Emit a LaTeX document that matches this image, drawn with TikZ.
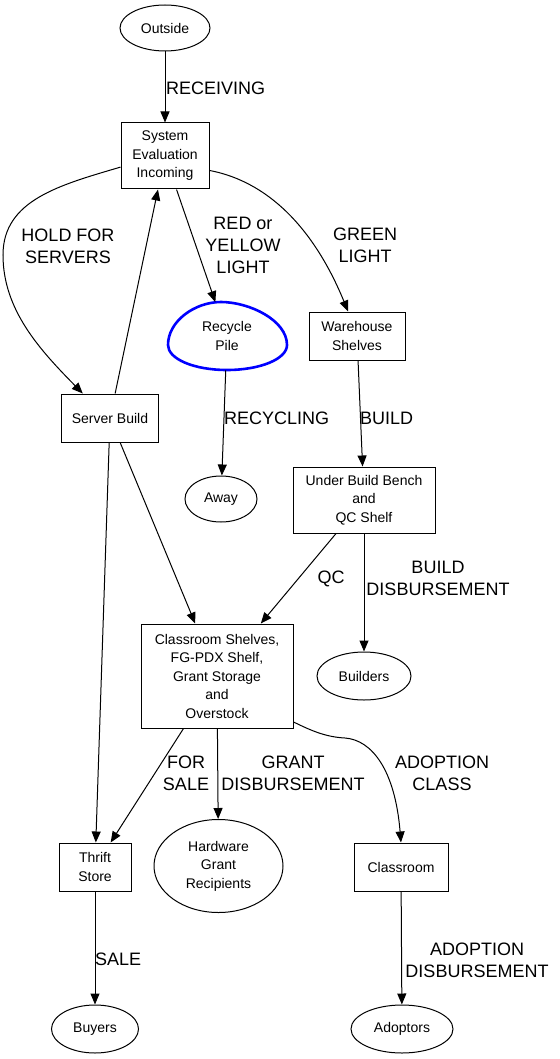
\documentclass[tikz,border=0pt]{standalone}
\usepackage{fontspec}
\setmainfont{Liberation Sans}
\usepackage{xcolor}
\usetikzlibrary{arrows.meta,shapes.geometric}
\definecolor{pileblue}{HTML}{0000FF}

\begin{document}
\begin{tikzpicture}[
  x=1pt,y=-1pt,
  box/.style={draw,line width=1pt,align=center,inner sep=0pt,
    font=\fontsize{14}{18.5}\selectfont},
  oval/.style={box,ellipse},
  lbl/.style={align=center,inner sep=0pt,font=\fontsize{18}{22}\selectfont},
  flow/.style={-{Triangle[length=11pt,width=9pt]},line width=1pt},
  egg/.style={draw=pileblue,line width=2.6pt}
]
\useasboundingbox (0,0) rectangle (559,1059);
% nodes
\node[oval,minimum width=90,minimum height=46] (outside) at (165,28) {Outside};
\node[box,minimum width=88,minimum height=66] (sei) at (165,156) {System\\Evaluation\\Incoming};
\node[oval,draw=none,minimum width=118,minimum height=68] (recycle) at (227,336) {Recycle\\Pile};
\node[box,minimum width=96,minimum height=48] (wh) at (357,336) {Warehouse\\Shelves};
\node[box,minimum width=97,minimum height=48] (sb) at (110,418) {Server Build};
\node[oval,minimum width=72,minimum height=46] (away) at (221,499) {Away};
\node[box,minimum width=142,minimum height=66] (ubb) at (364,500) {Under Build Bench\\and\\QC Shelf};
\node[box,minimum width=152,minimum height=104] (cs) at (217,676)
  {Classroom Shelves,\\FG-PDX Shelf,\\Grant Storage\\and\\Overstock};
\node[oval,minimum width=94,minimum height=48] (builders) at (364,676) {Builders};
\node[box,minimum width=72,minimum height=48] (thrift) at (95,867) {Thrift\\Store};
\node[oval,minimum width=129,minimum height=93] (hgr) at (218.5,866) {Hardware\\Grant\\Recipients};
\node[box,minimum width=94,minimum height=48] (classroom) at (401,867) {Classroom};
\node[oval,minimum width=87,minimum height=48] (buyers) at (95,1029) {Buyers};
\node[oval,minimum width=102,minimum height=48] (adoptors) at (402,1029) {Adoptors};
% recycle pile outline
\begin{scope}[shift={(recycle.center)}]
\draw[egg] (-59,9) .. controls (-59,-15) and (-32,-34) .. (-6,-34)
  .. controls (22,-34) and (60,-16) .. (60,9)
  .. controls (60,23) and (33,34) .. (0,34)
  .. controls (-33,34) and (-59,23) .. cycle;
\end{scope}
% connectors
\foreach \a/\b in {outside/sei,sb/sei,sei/recycle,recycle/away,wh/ubb,sb/cs,sb/thrift,
  ubb/cs,ubb/builders,cs/thrift,cs/hgr,thrift/buyers,classroom/adoptors}
  \draw[flow] (\a) -- (\b);
\draw[flow] (sei.194) .. controls (60,185) and (3,200) .. (3,255)
  .. controls (3,310) and (40,350) .. (sb.138);
\draw[flow] (sei.-18) .. controls (275,183) and (318,238) .. (wh.110);
\draw[flow] (cs.-31) .. controls (310,730) and (325,737) .. (345,738)
  .. controls (372,740) and (395,770) .. (classroom.north);
% labels
\node[lbl,anchor=west] (lrecv) at (166,88) {RECEIVING};
\node[lbl] (lhold) at (68,246) {HOLD FOR\\SERVERS};
\node[lbl] (lred) at (243,245) {RED or\\YELLOW\\LIGHT};
\node[lbl] (lgreen) at (365,245) {GREEN\\LIGHT};
\node[lbl,anchor=west] (lrecy) at (224,418) {RECYCLING};
\node[lbl,anchor=west] (lbuild) at (360,418) {BUILD};
\node[lbl] (lqc) at (331,579) {QC};
\node[lbl] (lbdis) at (438,578) {BUILD\\DISBURSEMENT};
\node[lbl] (lsale) at (186,773) {FOR\\SALE};
\node[lbl] (lgrant) at (293,773) {GRANT\\DISBURSEMENT};
\node[lbl] (lclass) at (442,773) {ADOPTION\\CLASS};
\node[lbl,anchor=west] (lsold) at (95,959) {SALE};
\node[lbl] (ladis) at (477,960) {ADOPTION\\DISBURSEMENT};
\end{tikzpicture}
\end{document}
